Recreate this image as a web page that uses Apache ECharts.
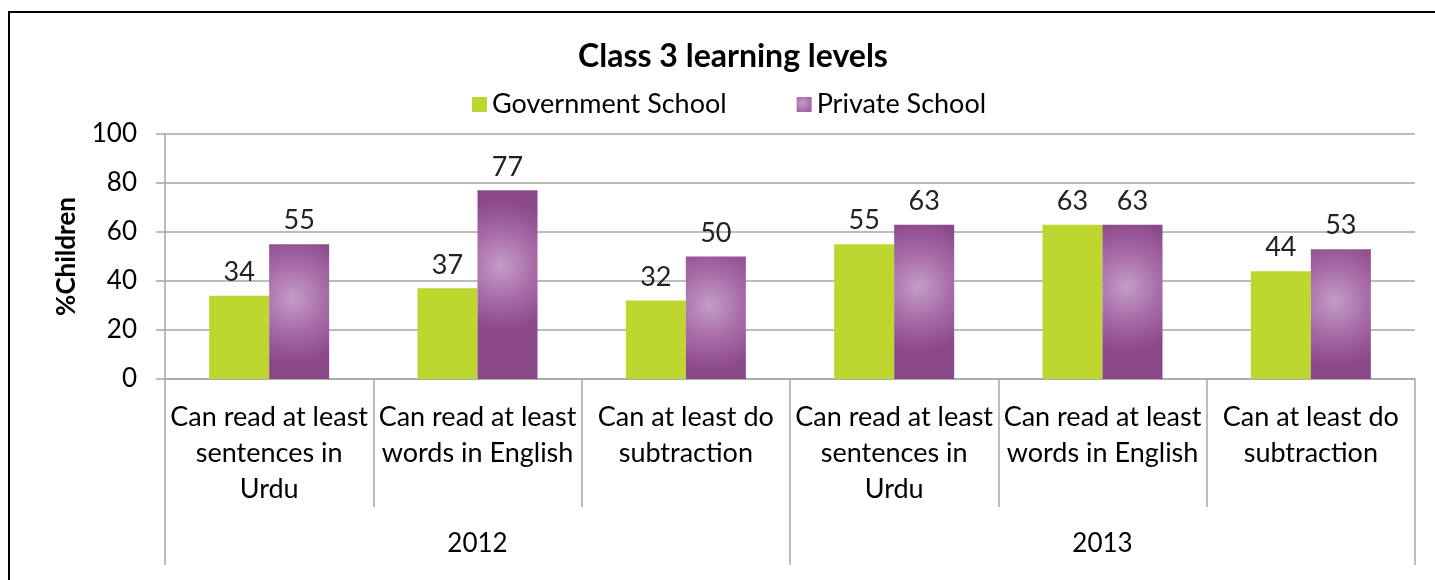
<!DOCTYPE html>
<html lang="en">
<head>
	<meta charset="UTF-8">
	<title>Class 3 learning levels</title>
	<script type="text/javascript" src="https://cdn.jsdelivr.net/npm/echarts@6/dist/echarts.min.js"></script>
	<style>
		html, body { margin: 0; padding: 0; background: #fff; }
	</style>
</head>
<body>
	<div id="main" style="width: 1435px;height: 580px;"></div>

   <script type="text/javascript">
        var categories = [
            'Can read at least\nsentences in\nUrdu',
            'Can read at least\nwords in English',
            'Can at least do\nsubtraction',
            'Can read at least\nsentences in\nUrdu',
            'Can read at least\nwords in English',
            'Can at least do\nsubtraction'
        ];
        var years = ['2012', '2013'];
        var govData = [34, 37, 32, 55, 63, 44];
        var privData = [55, 77, 50, 63, 63, 53];
        var seriesNames = ['Government School', 'Private School'];

        var font = 'Lato, "Liberation Sans", sans-serif';
        var chart = echarts.init(document.getElementById('main'));

        var purple = {
            type: 'radial', x: 0.4, y: 0.4, r: 1.1,
            colorStops: [
                { offset: 0, color: '#c49cc8' },
                { offset: 0.5, color: '#a86ca9' },
                { offset: 1, color: '#8b4889' }
            ]
        };

        var option = {
            animation: false,
            textStyle: { fontFamily: font },
            title: {
                text: 'Class 3 learning levels',
                left: 728,
                textAlign: 'center',
                top: 36,
                textStyle: { fontSize: 32, fontWeight: 'bold', color: '#000', fontFamily: font }
            },
            legend: {
                data: seriesNames,
                top: 86,
                left: 467,
                itemWidth: 15,
                itemHeight: 15,
                itemGap: 70,
                icon: 'rect',
                textStyle: { fontSize: 27, color: '#000', fontFamily: font }
            },
            // outer frame
            graphic: [{
                type: 'rect',
                shape: { x: 9, y: 12, width: 1460, height: 620 },
                style: { fill: 'none', stroke: '#000', lineWidth: 2 },
                silent: true
            }],
            grid: { left: 165, right: 20, top: 134, bottom: 201 },
            xAxis: [{
                type: 'category',
                data: categories,
                position: 'bottom',
                axisLine: { lineStyle: { color: '#a6a6a6', width: 1.5 } },
                axisTick: { show: true, length: 128, lineStyle: { color: '#a6a6a6', width: 1.5 } },
                axisLabel: {
                    interval: 0,
                    margin: 20,
                    fontSize: 27,
                    lineHeight: 36,
                    color: '#000',
                    fontFamily: font
                }
            }, {
                type: 'category',
                data: years,
                position: 'bottom',
                axisLine: { show: false },
                axisTick: { show: true, length: 186, lineStyle: { color: '#a6a6a6', width: 1.5 } },
                axisLabel: {
                    interval: 0,
                    margin: 152,
                    fontSize: 26,
                    color: '#000',
                    fontFamily: font
                }
            }],
            yAxis: {
                type: 'value',
                min: 0,
                max: 100,
                interval: 20,
                name: '%Children',
                nameLocation: 'middle',
                nameRotate: 90,
                nameGap: 85,
                nameTextStyle: { fontSize: 26, fontWeight: 'bold', color: '#000', fontFamily: font },
                axisLine: { show: true, lineStyle: { color: '#a6a6a6', width: 1.5 } },
                axisTick: { show: true, length: 9, lineStyle: { color: '#a6a6a6', width: 1.5 } },
                axisLabel: { margin: 28, fontSize: 26, color: '#000', fontFamily: font },
                splitLine: { lineStyle: { color: '#a6a6a6', width: 1.5 } }
            },
            series: [{
                name: seriesNames[0],
                type: 'bar',
                data: govData,
                barWidth: 60,
                barGap: '0%',
                itemStyle: { color: '#bed630' },
                label: { show: true, position: 'top', distance: 10, fontSize: 27, color: '#222', fontFamily: font }
            }, {
                name: seriesNames[1],
                type: 'bar',
                data: privData,
                barWidth: 60,
                barGap: '0%',
                itemStyle: { color: purple },
                label: { show: true, position: 'top', distance: 10, fontSize: 27, color: '#222', fontFamily: font }
            }]
        };
        chart.setOption(option);
   </script>
</body>
</html>
